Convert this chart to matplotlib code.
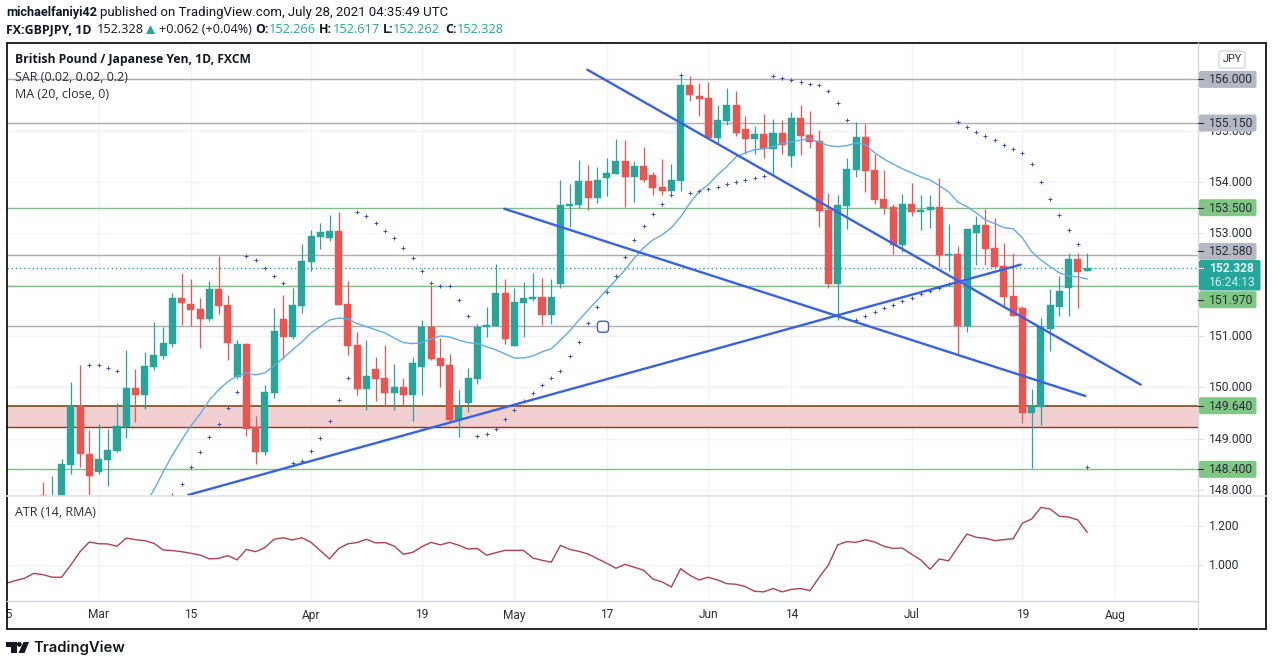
import matplotlib
matplotlib.use("Agg")
import matplotlib.pyplot as plt
from matplotlib.patches import FancyBboxPatch, Polygon, Circle, Rectangle

# daily bars, index 0 is Mar 1 2021
bar_start = -6
opens = [147.90, 147.70, 147.70, 148.49, 149.64, 148.70, 148.35, 148.58, 148.76, 149.23,
         149.99, 149.85, 150.40, 150.61, 150.85, 151.74, 151.63, 151.53, 151.33, 151.92,
         151.61, 150.20, 150.85, 149.23, 148.74, 149.89, 151.33, 150.98, 151.59, 152.44,
         152.93, 152.91, 153.05, 151.63, 150.83, 149.97, 150.36, 150.18, 149.89, 150.01,
         149.85, 150.40, 151.18, 150.57, 150.44, 149.36, 149.70, 150.16, 151.18, 151.20,
         151.84, 150.81, 151.65, 151.72, 151.76, 151.41, 152.02, 153.54, 153.56, 154.02,
         153.69, 154.08, 154.16, 154.41, 154.10, 154.32, 154.14, 153.91, 153.83, 154.02,
         155.89, 155.68, 155.64, 154.86, 155.19, 155.50, 155.04, 154.84, 154.94, 154.65,
         154.96, 154.51, 155.25, 154.92, 154.80, 153.46, 152.02, 153.54, 154.24, 154.88,
         154.24, 153.67, 153.52, 152.78, 153.57, 153.42, 153.46, 153.52, 152.58, 152.60,
         151.20, 153.01, 153.17, 152.72, 152.37, 151.78, 151.55, 149.50, 149.62, 151.14,
         151.57, 151.94, 152.50, 152.27]
highs = [148.16, 148.27, 148.60, 150.10, 150.44, 149.17, 149.29, 149.19, 149.70, 150.73,
         150.36, 150.69, 151.27, 151.18, 151.84, 152.23, 152.11, 151.74, 152.07, 152.56,
         151.80, 150.92, 150.87, 149.44, 150.05, 151.55, 151.80, 151.94, 152.80, 153.07,
         153.20, 153.36, 153.42, 152.07, 151.08, 150.92, 150.59, 150.83, 150.46, 150.18,
         150.59, 151.31, 151.98, 150.96, 150.65, 149.95, 150.38, 151.24, 151.57, 152.41,
         152.11, 151.94, 152.05, 152.23, 152.13, 152.11, 154.04, 153.96, 154.43, 154.33,
         154.30, 154.47, 154.84, 154.82, 154.41, 154.69, 154.20, 154.45, 154.35, 156.09,
         156.07, 155.93, 155.95, 155.50, 155.84, 155.78, 155.29, 155.10, 155.33, 155.23,
         155.21, 155.37, 155.50, 155.39, 155.02, 153.79, 153.75, 154.47, 155.17, 155.13,
         154.55, 154.24, 153.57, 153.77, 153.98, 153.75, 153.75, 154.08, 153.19, 152.76,
         153.09, 153.34, 153.48, 153.30, 152.81, 152.62, 151.58, 149.97, 151.35, 151.92,
         152.17, 152.62, 152.62, 152.62]
lows = [147.60, 147.50, 147.50, 148.31, 148.45, 147.89, 148.31, 148.08, 148.73, 149.01,
        149.33, 149.58, 150.34, 150.55, 150.79, 151.22, 151.20, 150.77, 151.29, 151.43,
        150.53, 150.16, 149.05, 148.51, 148.68, 149.79, 150.55, 150.94, 151.45, 152.27,
        152.70, 152.85, 151.61, 150.63, 149.85, 149.56, 149.73, 149.64, 149.56, 149.66,
        149.35, 149.85, 150.53, 150.01, 149.33, 149.03, 149.52, 150.07, 150.98, 151.20,
        150.85, 150.81, 150.98, 151.68, 151.22, 151.24, 151.94, 153.13, 153.50, 153.46,
        153.59, 153.73, 154.16, 153.52, 153.61, 154.00, 153.75, 153.75, 153.73, 153.83,
        155.58, 155.29, 154.86, 154.76, 155.11, 154.90, 154.55, 154.55, 154.47, 154.14,
        154.55, 154.30, 154.53, 154.67, 153.13, 151.94, 151.31, 153.09, 154.10, 153.81,
        153.57, 153.38, 152.60, 152.64, 153.34, 153.07, 153.11, 152.35, 152.27, 150.65,
        151.08, 152.39, 152.39, 152.35, 151.57, 151.39, 149.31, 148.43, 149.27, 150.71,
        151.39, 151.39, 151.55, 152.26]
closes = [147.70, 147.85, 148.51, 149.64, 148.69, 148.27, 148.60, 148.78, 149.25, 149.99,
          149.85, 150.42, 150.63, 150.87, 151.74, 151.65, 151.51, 151.33, 151.92, 151.59,
          150.87, 150.85, 149.19, 148.74, 149.91, 151.10, 150.98, 151.61, 152.46, 152.95,
          153.03, 153.05, 151.61, 150.81, 149.97, 150.22, 150.16, 149.89, 150.01, 149.85,
          150.48, 151.18, 150.55, 150.42, 149.36, 149.62, 150.18, 151.18, 151.22, 151.84,
          150.94, 151.66, 151.74, 151.76, 151.41, 151.76, 153.56, 153.57, 154.02, 153.69,
          154.04, 154.18, 154.41, 154.10, 154.32, 154.04, 153.89, 153.83, 154.04, 155.89,
          155.70, 155.62, 154.86, 155.21, 155.50, 154.96, 154.84, 154.94, 154.65, 154.96,
          154.73, 155.25, 154.90, 154.78, 153.44, 152.02, 153.56, 154.26, 154.88, 154.22,
          153.65, 153.50, 152.78, 153.57, 153.42, 153.46, 153.52, 152.58, 152.60, 151.20,
          153.09, 153.17, 152.70, 152.35, 151.76, 151.39, 149.50, 149.64, 151.18, 151.61,
          151.88, 152.50, 152.25, 152.33]

sar_bars = [-1, 0, 1, 2] + list(range(8, 108))
sar_values = [150.44, 150.44, 150.38, 150.32,
              147.89, 148.12, 148.45, 148.74, 149.03, 149.29, 149.60, 149.91,
              152.56, 152.48, 152.33, 152.17, 152.04,
              148.53, 148.57, 148.76, 149.01, 149.35, 149.75, 150.18,
              153.42, 153.34, 153.20, 153.05, 152.91, 152.72, 152.52, 152.27, 152.04, 151.98,
              151.98, 151.70, 151.39,
              149.05, 149.09, 149.19, 149.38, 149.56, 149.73, 149.89, 150.05, 150.18, 150.32,
              150.61, 150.88, 151.26, 151.57, 151.86, 152.17, 152.54, 152.87, 153.15, 153.38,
              153.57, 153.75, 156.09,
              153.79, 153.83, 153.87, 153.91, 153.96, 154.00, 154.04, 154.08, 154.12,
              156.07, 156.03, 155.99, 155.95, 155.91, 155.89, 155.78, 155.54, 155.21,
              151.31, 151.39, 151.47, 151.55, 151.61, 151.68, 151.74, 151.82, 151.88, 151.94,
              152.02,
              155.17, 155.08, 154.98, 154.90, 154.82, 154.73, 154.65, 154.57, 154.35, 154.00,
              153.67, 153.36, 153.07, 152.80, 148.45]

ma_start = 5
ma_values = [147.71, 148.00, 148.35, 148.68, 148.97, 149.25, 149.48, 149.75, 149.95, 150.11,
             150.22, 150.28, 150.24, 150.28, 150.42, 150.57, 150.73, 150.88, 151.06, 151.18,
             151.31, 151.35, 151.33, 151.24, 151.18, 151.12, 151.06, 150.96, 150.87, 150.85,
             150.87, 150.94, 151.00, 150.98, 150.92, 150.87, 150.85, 150.79, 150.73, 150.65,
             150.57, 150.57, 150.61, 150.69, 150.75, 150.92, 151.10, 151.31, 151.51, 151.70,
             151.90, 152.09, 152.29, 152.52, 152.72, 152.87, 152.97, 153.11, 153.32, 153.59,
             153.81, 153.95, 154.14, 154.30, 154.49, 154.57, 154.63, 154.65, 154.69, 154.76,
             154.78, 154.82, 154.84, 154.78, 154.71, 154.69, 154.71, 154.76, 154.73, 154.57,
             154.45, 154.35, 154.26, 154.18, 154.10, 154.04, 153.93, 153.81, 153.61, 153.52,
             153.40, 153.26, 153.19, 153.11, 153.09, 152.91, 152.64, 152.48, 152.35, 152.23,
             152.17, 152.15, 152.11]

atr_start = -10
atr_values = [0.906, 0.920, 0.932, 0.957, 0.950, 0.937, 0.937, 1.000, 1.068, 1.118,
              1.109, 1.108, 1.096, 1.138, 1.130, 1.125, 1.111, 1.077, 1.074, 1.068,
              1.060, 1.051, 1.031, 1.034, 1.048, 1.026, 1.080, 1.068, 1.089, 1.132,
              1.140, 1.128, 1.140, 1.116, 1.074, 1.031, 1.085, 1.109, 1.115, 1.132,
              1.113, 1.115, 1.097, 1.055, 1.065, 1.094, 1.116, 1.103, 1.116, 1.101,
              1.082, 1.085, 1.050, 1.063, 1.075, 1.075, 1.075, 1.036, 1.024, 1.014,
              1.101, 1.080, 1.070, 1.056, 1.032, 1.009, 0.983, 1.003, 0.988, 0.973,
              0.928, 0.913, 0.887, 0.981, 0.947, 0.923, 0.937, 0.923, 0.904, 0.901,
              0.889, 0.865, 0.862, 0.879, 0.862, 0.875, 0.879, 0.868, 0.937, 1.000,
              1.103, 1.120, 1.116, 1.130, 1.118, 1.096, 1.085, 1.087, 1.055, 1.026,
              0.978, 1.031, 1.021, 1.091, 1.159, 1.142, 1.137, 1.125, 1.130, 1.135,
              1.215, 1.236, 1.296, 1.287, 1.250, 1.246, 1.231, 1.168]

price_ticks = [148, 149, 150, 151, 152, 153, 154, 155, 156]
# 152 and 156 sit fully under the last price and 156.000 tags
hidden_price_labels = [152, 156]
atr_ticks = [1.0, 1.2]
time_ticks = [-10, 0, 10, 23, 35, 45, 55, 66, 75, 88, 100, 110]
time_labels = ["15", "Mar", "15", "Apr", "19", "May", "17", "Jun", "14", "Jul", "19", "Aug"]

gray_levels = [156.0, 155.15, 152.58, 151.19]
green_levels = [153.5, 151.97, 148.40]
zone_top = 149.64
zone_bottom = 149.22
last_price = 152.328
tag_gray = [156.0, 155.15, 152.58]
tag_green = [153.5, 151.97, 149.64, 148.40]
# the scale pushes these two tags off their level to make room for the last price
tag_shift = {152.58: -3.5, 151.97: 13.5}

trend_lines = [([52.9, 112.8], [156.19, 150.05]),
               ([43.9, 106.8], [153.48, 149.83]),
               ([9.7, 99.8], [147.90, 152.39])]
handle_bar = 54.6
handle_price = 151.18

TEAL = "#26a69a"
RED = "#ef5350"
GRID = "#f0f3fa"
TEXT = "#2a2e39"

W, H = 1273, 666
LEFT, RIGHT, TOP, MAIN_BOT, ATR_BOT, BOTTOM = 6.5, 1198, 43, 496, 601, 629
XLIM = (-9.96, 119.0)

plt.rcParams["font.family"] = ["Roboto", "DejaVu Sans"]


def add_panel(y_top, y_bot):
    return fig.add_axes([LEFT / W, 1 - y_bot / H, (RIGHT - LEFT) / W, (y_bot - y_top) / H])


fig = plt.figure(figsize=(W / 100, H / 100), dpi=100, facecolor="white")
ax = add_panel(TOP, MAIN_BOT)
ax_atr = add_panel(MAIN_BOT + 1, ATR_BOT)
ax_time = add_panel(ATR_BOT, BOTTOM)
overlay = fig.add_axes([0, 0, 1, 1], zorder=10)
overlay.set_xlim(0, W)
overlay.set_ylim(H, 0)
overlay.axis("off")
overlay.patch.set_alpha(0)

# main panel
ax.set_xlim(*XLIM)
ax.set_ylim(147.88, 156.71)
ax.set_xticks(time_ticks[1:])
ax.set_yticks(price_ticks)
ax.grid(color=GRID, lw=1)
ax.set_axisbelow(True)
ax.tick_params(length=0, labelbottom=False, labelleft=False)

ax.axhspan(zone_bottom, zone_top, color="#f2d0d2", lw=0, zorder=1)
ax.axhline(zone_top, color="#7a4a20", lw=1.2, zorder=1.5)
ax.axhline(zone_bottom, color="#a32a2a", lw=1, zorder=1.5)
for level in gray_levels:
    ax.axhline(level, color="#ababb0", lw=1, zorder=1.5)
for level in green_levels:
    ax.axhline(level, color="#84bd88", lw=1, zorder=1.5)
ax.axhline(last_price, color=TEAL, lw=1, ls=(0, (1, 2)), zorder=1.5)

bars = range(bar_start, bar_start + len(opens))
for i, o, h, l, c in zip(bars, opens, highs, lows, closes):
    color = TEAL if c >= o else RED
    ax.vlines(i, l, h, color=color, lw=0.9, zorder=2)
    ax.bar(i, abs(c - o), bottom=min(o, c), width=0.76, color=color, edgecolor=color, lw=0.3, zorder=2.1)

ma_bars = range(ma_start, ma_start + len(ma_values))
ax.plot(ma_bars, ma_values, color="#62ace6", lw=1, zorder=3)
ax.scatter(sar_bars, sar_values, marker="+", s=5, lw=0.7, color="#3f4fbd", zorder=3)

for xs, ys in trend_lines:
    ax.plot(xs, ys, color="#3862e6", lw=1.7, solid_capstyle="round", zorder=4)


def bar_x(bar):
    x0, x1 = ax.get_xlim()
    return LEFT + (bar - x0) / (x1 - x0) * (RIGHT - LEFT)


def price_y(price):
    y0, y1 = ax.get_ylim()
    return MAIN_BOT - (price - y0) / (y1 - y0) * (MAIN_BOT - TOP)


def atr_y(value):
    y0, y1 = ax_atr.get_ylim()
    return ATR_BOT - (value - y0) / (y1 - y0) * (ATR_BOT - MAIN_BOT - 1)


# ATR panel
ax_atr.set_xlim(*XLIM)
ax_atr.set_ylim(0.815, 1.349)
ax_atr.set_xticks(time_ticks[1:])
ax_atr.set_yticks(atr_ticks)
ax_atr.grid(color=GRID, lw=1)
ax_atr.set_axisbelow(True)
ax_atr.tick_params(length=0, labelbottom=False, labelleft=False)
atr_bars = range(atr_start, atr_start + len(atr_values))
ax_atr.plot(atr_bars, atr_values, color="#b0424e", lw=1)

# time axis
ax_time.set_xlim(*XLIM)
ax_time.set_ylim(0, 1)
ax_time.set_xticks([])
ax_time.set_yticks([])
for pos, label_text in zip(time_ticks, time_labels):
    ax_time.text(pos, 0.5, label_text, ha="center", va="center", fontsize=8.6, color=TEXT, clip_on=True)

for a in (ax, ax_atr, ax_time):
    for side in a.spines:
        a.spines[side].set_visible(False)

# frame and separators
overlay.add_patch(Rectangle((LEFT, TOP), 1266 - LEFT, BOTTOM - TOP, fill=False, ec="black", lw=1.2))
overlay.plot([LEFT, 1266], [MAIN_BOT, MAIN_BOT], color="#e0e3eb", lw=1.2)
overlay.plot([LEFT, 1198], [ATR_BOT, ATR_BOT], color="#d6d8df", lw=1)
overlay.plot([1198, 1198], [TOP, BOTTOM], color="#d6d8df", lw=1)

# drag handle of the selected trend line
hx, hy = bar_x(handle_bar), price_y(handle_price)
overlay.add_patch(FancyBboxPatch((hx - 5.5, hy - 5.5), 11, 11, boxstyle="round,pad=0,rounding_size=3",
                                 fc="white", ec="#3f5fc0", lw=1, zorder=6))

# price scale
for price in price_ticks:
    if price in hidden_price_labels:
        continue
    y = price_y(price)
    overlay.plot([1198, 1203], [y, y], color="#e0e3eb", lw=0.8, zorder=1)
    overlay.text(1209, y + 0.5, f"{price:.3f}", va="center", fontsize=8.7, color=TEXT, zorder=1)
for value in atr_ticks:
    y = atr_y(value)
    overlay.plot([1198, 1203], [y, y], color="#e0e3eb", lw=0.8, zorder=1)
    overlay.text(1209, y + 0.5, f"{value:.3f}", va="center", fontsize=8.7, color=TEXT, zorder=1)


def price_tag(price, color):
    y = price_y(price) + tag_shift.get(price, 0)
    overlay.add_patch(FancyBboxPatch((1199, y - 8.5), 57.5, 17, boxstyle="round,pad=0,rounding_size=2",
                                     fc=color, ec="none", zorder=2))
    overlay.plot([1198, 1203], [y, y], color=TEXT, lw=0.8, zorder=3)
    overlay.text(1209, y + 0.5, f"{price:.3f}", va="center", fontsize=8.7, color=TEXT, zorder=3)


for price in tag_gray:
    price_tag(price, "#b5b8c2")
for price in tag_green:
    price_tag(price, "#81c784")

overlay.add_patch(FancyBboxPatch((1199, 260), 61.5, 30.5, boxstyle="round,pad=0,rounding_size=2",
                                 fc=TEAL, ec="none", zorder=4))
overlay.text(1209, 268, "152.328", va="center", fontsize=8.7, fontweight="bold", color="#e6f5f3", zorder=5)
overlay.text(1209, 283, "16:24:13", va="center", fontsize=8.7, color="#d7efec", zorder=5)
overlay.plot([1198, 1203], [268, 268], color="white", lw=0.8, zorder=5)

overlay.add_patch(FancyBboxPatch((1219, 51), 26, 17, boxstyle="round,pad=0,rounding_size=3",
                                 fc="white", ec="#d6d8df", lw=1))
overlay.text(1232, 59.5, "JPY", ha="center", va="center", fontsize=7.8, color=TEXT)

# header and legend text
SANS = ["Open Sans", "DejaVu Sans"]
ROBOTO = ["Roboto", "DejaVu Sans"]


def label(x, y, s, color="#131722", weight="normal", size=9.0, family=SANS):
    overlay.text(x, y, s, va="center", family=family, fontsize=size, color=color, fontweight=weight)


label(6.5, 12.5, "michaelfaniyi42", weight="bold", size=9.2, family=ROBOTO)
label(100, 12.5, "published on TradingView.com, July 28, 2021 04:35:49 UTC", size=9.55, family=ROBOTO)
label(6.5, 29.5, "FX:GBPJPY, 1D", weight="bold", size=8.9)
label(97, 29.5, "152.328", size=9.2)
overlay.add_patch(Polygon([[146, 34], [155, 34], [150.5, 25]], fc=TEAL, ec="none"))
label(159, 29.5, "+0.062 (+0.04%)", size=9.1)
for x_key, x_val, key, val in [(255, 269, "O:", "152.266"), (319, 333, "H:", "152.617"),
                               (383, 393, "L:", "152.262"), (445, 457, "C:", "152.328")]:
    label(x_key, 29.5, key, weight="bold", size=8.9)
    label(x_val, 29.5, val, color=TEAL, size=9.2)

label(15, 60, "British Pound / Japanese Yen, 1D, FXCM", weight="bold", size=8.75)
label(15, 77.5, "SAR (0.02, 0.02, 0.2)", color=TEXT)
label(15, 95, "MA (20, close, 0)", color=TEXT)
label(15, 513, "ATR (14, RMA)", color=TEXT)

# logo
LOGO = "#131722"
overlay.add_patch(Polygon([[6, 642], [16.5, 642], [16.5, 653], [11, 653], [11, 647], [6, 647]], fc=LOGO, ec="none"))
overlay.add_patch(Circle((19.3, 644.4), 2.4, fc=LOGO, ec="none"))
overlay.add_patch(Polygon([[23.5, 642], [29, 642], [24.5, 653], [18.5, 653]], fc=LOGO, ec="none"))
overlay.text(33, 648, "TradingView", va="center", family=["Inter", "DejaVu Sans"], fontsize=10.7,
             fontweight="semibold", color=LOGO)

fig.savefig("out.png", dpi=100)
